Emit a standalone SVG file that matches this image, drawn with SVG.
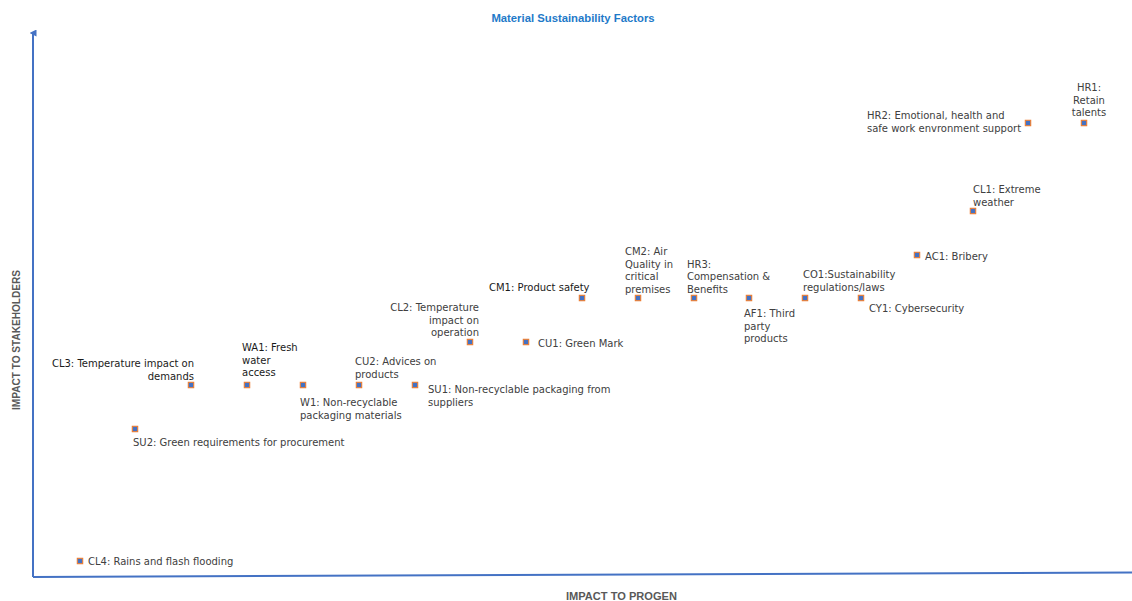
<svg xmlns="http://www.w3.org/2000/svg" width="1132" height="601" viewBox="0 0 1132 601">
<style>
.lbl{font-family:"DejaVu Sans",sans-serif;font-size:10px;fill:#404040}
.dk{fill:#1a1a1a}
.ax{font-family:"Liberation Sans",Arial,sans-serif;font-weight:bold;font-size:10px;fill:#595959}
.title{font-family:"Liberation Sans",Arial,sans-serif;font-weight:bold;font-size:11.3px;fill:#1F7AC9}
.mk{fill:#4472C4;stroke:#ED7D31;stroke-width:1.1}
.axis{stroke:#4472C4;stroke-width:2;fill:none}
</style>
<defs>
<marker id="arr" markerWidth="7" markerHeight="7" refX="3.5" refY="3.5" orient="auto" markerUnits="userSpaceOnUse">
<path d="M0,7 L3.5,0 L7,7 Z" fill="#4472C4"/>
</marker>
<rect id="m" x="-2.7" y="-2.7" width="5.4" height="5.4" class="mk"/>
</defs>
<rect width="1132" height="601" fill="#ffffff"/>
<text class="title" x="573" y="22" text-anchor="middle">Material Sustainability Factors</text>
<g id="axes">
<line class="axis" x1="33" y1="577" x2="33" y2="33" marker-end="url(#arr)"/>
<line class="axis" x1="33" y1="577" x2="1132" y2="572.5"/>
</g>
<text class="ax" x="621.5" y="600" text-anchor="middle" textLength="111" lengthAdjust="spacingAndGlyphs">IMPACT TO PROGEN</text>
<text class="ax" transform="translate(20,340) rotate(-90)" text-anchor="middle" textLength="140" lengthAdjust="spacingAndGlyphs">IMPACT TO STAKEHOLDERS</text>

<g id="CL4"><use href="#m" x="80" y="561"/><text class="lbl" x="88" y="565">CL4: Rains and flash flooding</text></g>
<g id="SU2"><use href="#m" x="135" y="429"/><text class="lbl" x="133" y="446">SU2: Green requirements for procurement</text></g>
<g id="CL3"><use href="#m" x="191" y="385"/><text class="lbl dk" text-anchor="end"><tspan x="194" y="367">CL3: Temperature impact on</tspan><tspan x="194" y="379.5">demands</tspan></text></g>
<g id="WA1"><use href="#m" x="247" y="385"/><text class="lbl dk"><tspan x="242" y="351">WA1: Fresh</tspan><tspan x="242" y="363.5">water</tspan><tspan x="242" y="376">access</tspan></text></g>
<g id="W1"><use href="#m" x="303" y="385"/><text class="lbl"><tspan x="300" y="406">W1: Non-recyclable</tspan><tspan x="300" y="418.5">packaging materials</tspan></text></g>
<g id="CU2"><use href="#m" x="359" y="385"/><text class="lbl"><tspan x="355" y="365">CU2: Advices on</tspan><tspan x="355" y="377.5">products</tspan></text></g>
<g id="SU1"><use href="#m" x="415" y="385"/><text class="lbl"><tspan x="428" y="393">SU1: Non-recyclable packaging from</tspan><tspan x="428" y="405.5">suppliers</tspan></text></g>
<g id="CL2"><use href="#m" x="470" y="342"/><text class="lbl" text-anchor="end"><tspan x="479" y="311">CL2: Temperature</tspan><tspan x="479" y="323.5">impact on</tspan><tspan x="479" y="336">operation</tspan></text></g>
<g id="CU1"><use href="#m" x="526" y="342"/><text class="lbl" x="538" y="347">CU1: Green Mark</text></g>
<g id="CM1"><use href="#m" x="582" y="298"/><text class="lbl dk" x="489" y="291">CM1: Product safety</text></g>
<g id="CM2"><use href="#m" x="638" y="298"/><text class="lbl"><tspan x="625" y="255">CM2: Air</tspan><tspan x="625" y="267.5">Quality in</tspan><tspan x="625" y="280">critical</tspan><tspan x="625" y="292.5">premises</tspan></text></g>
<g id="HR3"><use href="#m" x="694" y="298"/><text class="lbl"><tspan x="687" y="267.5">HR3:</tspan><tspan x="687" y="280">Compensation &amp;</tspan><tspan x="687" y="292.5">Benefits</tspan></text></g>
<g id="AF1"><use href="#m" x="749" y="298"/><text class="lbl"><tspan x="744" y="317">AF1: Third</tspan><tspan x="744" y="329.5">party</tspan><tspan x="744" y="342">products</tspan></text></g>
<g id="CO1"><use href="#m" x="805" y="298"/><text class="lbl"><tspan x="803" y="278">CO1:Sustainability</tspan><tspan x="803" y="290.5">regulations/laws</tspan></text></g>
<g id="CY1"><use href="#m" x="861" y="298"/><text class="lbl" x="869" y="312">CY1: Cybersecurity</text></g>
<g id="AC1"><use href="#m" x="917" y="255"/><text class="lbl" x="925" y="260">AC1: Bribery</text></g>
<g id="CL1"><use href="#m" x="973" y="211"/><text class="lbl"><tspan x="973" y="193">CL1: Extreme</tspan><tspan x="973" y="205.5">weather</tspan></text></g>
<g id="HR2"><use href="#m" x="1028" y="123"/><text class="lbl"><tspan x="867" y="119">HR2: Emotional, health and</tspan><tspan x="867" y="131.5">safe work envronment support</tspan></text></g>
<g id="HR1"><use href="#m" x="1084" y="123"/><text class="lbl" text-anchor="middle"><tspan x="1089" y="91">HR1:</tspan><tspan x="1089" y="103.5">Retain</tspan><tspan x="1089" y="116">talents</tspan></text></g>
</svg>
